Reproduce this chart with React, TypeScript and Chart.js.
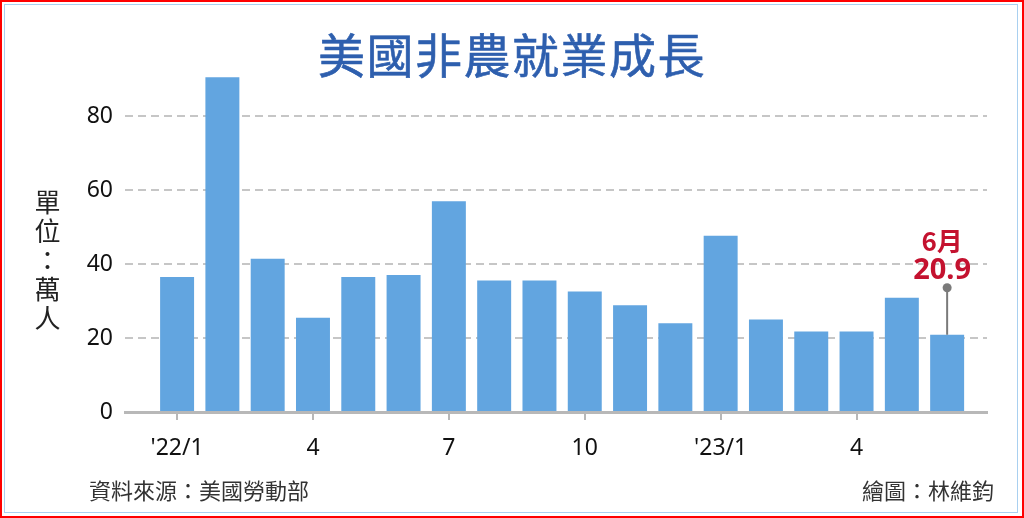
import React, { useEffect, useRef } from 'react';
import { Chart, registerables } from 'chart.js';

Chart.register(...registerables);

const TITLE = '美國非農就業成長';
const Y_LABEL = '單位：萬人';
const SOURCE = '資料來源：美國勞動部';
const CREDIT = '繪圖：林維鈞';

const categories = ["'22/1", '2', '3', '4', '5', '6', '7', '8', '9', '10', '11', '12', "'23/1", '2', '3', '4', '5', '6'];
const jobGains = [36.5, 90.6, 41.5, 25.5, 36.5, 37.1, 57.0, 35.6, 35.6, 32.6, 28.9, 24.0, 47.7, 25.0, 21.8, 21.8, 30.9, 20.9];
const yTicks = [0, 20, 40, 60, 80];

const CJK = "'Noto Sans CJK TC', 'Noto Sans', sans-serif";
const NUM = "'Noto Sans', 'DejaVu Sans', sans-serif";

export default function App() {
  const ref = useRef<HTMLCanvasElement>(null);

  useEffect(() => {
    if (!ref.current) return;
    const lastIdx = jobGains.length - 1;
    const annot = {
      id: 'lastAnnot',
      afterDatasetsDraw(chart: any) {
        const meta = chart.getDatasetMeta(0);
        const el = meta.data[lastIdx];
        if (!el) return;
        const ctx = chart.ctx;
        const x = el.x;
        const top = el.y;
        const dotY = top - 47;
        ctx.save();
        ctx.strokeStyle = '#7a7a7a';
        ctx.lineWidth = 2;
        ctx.beginPath();
        ctx.moveTo(x, top);
        ctx.lineTo(x, dotY);
        ctx.stroke();
        ctx.fillStyle = '#7a7a7a';
        ctx.beginPath();
        ctx.arc(x, dotY, 4.5, 0, Math.PI * 2);
        ctx.fill();
        ctx.fillStyle = '#c4122f';
        ctx.textAlign = 'center';
        ctx.textBaseline = 'alphabetic';
        ctx.font = `bold 29px ${NUM}`;
        ctx.fillText(jobGains[lastIdx].toFixed(1), x - 5, top - 56);
        ctx.font = `bold 26px ${CJK}`;
        ctx.fillText(`${categories[lastIdx]}月`, x - 5, top - 84);
        ctx.restore();
      },
    };

    const chart = new Chart(ref.current, {
      type: 'bar',
      data: {
        datasets: [
          {
            data: jobGains.map((v, i) => ({ x: i, y: v })) as any,
            backgroundColor: '#62a5e0',
            categoryPercentage: 0.75,
            barPercentage: 1,
          },
        ],
      },
      options: {
        animation: false,
        responsive: false,
        layout: { padding: { left: 85, right: 37, top: 72, bottom: 46 } },
        plugins: { legend: { display: false }, tooltip: { enabled: false } },
        scales: {
          x: {
            type: 'linear',
            offset: false,
            min: -1.15,
            max: 17.88,
            afterBuildTicks: (s: any) => {
              s.ticks = categories.map((_, i) => ({ value: i })).filter((t) => t.value % 3 === 0);
            },
            afterFit: (s: any) => {
              s.height = 60;
            },
            ticks: {
              callback: (v: any) => categories[v] ?? '',
              font: { family: NUM, size: 23 },
              color: '#111',
              padding: 15,
              maxRotation: 0,
              autoSkip: false,
            },
            grid: { offset: false, drawOnChartArea: false, drawTicks: true, tickLength: 8, color: '#b8b8b8', lineWidth: 2 },
            border: { display: true, color: '#b8b8b8', width: 3 },
          },
          y: {
            min: 0,
            max: 92,
            afterBuildTicks: (s: any) => {
              s.ticks = yTicks.map((v) => ({ value: v }));
            },
            afterFit: (s: any) => {
              s.width = 40;
            },
            ticks: {
              font: { family: NUM, size: 23 },
              color: '#111',
              padding: 12,
            },
            grid: {
              drawTicks: false,
              color: (c: any) => (c.tick && c.tick.value === 0 ? 'rgba(0,0,0,0)' : '#c6c6c6'),
              lineWidth: 2,
            },
            border: { display: false, dash: [8, 5] },
          },
        },
      } as any,
      plugins: [annot],
    });
    return () => chart.destroy();
  }, []);

  return (
    <div style={{ position: 'fixed', left: 0, top: 0, width: 1024, height: 518, background: '#fff', overflow: 'hidden' }}>
      <canvas ref={ref} width={1024} height={518} style={{ position: 'absolute', left: 0, top: 0, width: 1024, height: 518 }} />
      <div style={{ position: 'absolute', inset: 0, border: '2px solid #ff0000', boxSizing: 'border-box', pointerEvents: 'none' }} />
      <div style={{ position: 'absolute', left: 4, top: 4, right: 6, bottom: 5, border: '1.5px solid #a9d0f0', boxSizing: 'border-box', pointerEvents: 'none' }} />
      <div
        style={{
          position: 'absolute', left: 0, width: 1024, top: 29, textAlign: 'center',
          fontFamily: CJK, fontSize: 47, lineHeight: '47px', fontWeight: 400, color: '#2e5fae', letterSpacing: 1.5,
          WebkitTextStroke: '0.6px #2e5fae',
        }}
      >
        {TITLE}
      </div>
      <div style={{ position: 'absolute', left: 33, top: 186, width: 29, fontFamily: CJK, fontSize: 26, lineHeight: '29px', color: '#222', textAlign: 'center' }}>
        {Y_LABEL.split('').map((ch, i) => (
          <div key={i}>{ch}</div>
        ))}
      </div>
      <div style={{ position: 'absolute', left: 89, top: 476, fontFamily: CJK, fontSize: 22, lineHeight: '26px', color: '#333' }}>{SOURCE}</div>
      <div style={{ position: 'absolute', right: 30, top: 476, fontFamily: CJK, fontSize: 22, lineHeight: '26px', color: '#333' }}>{CREDIT}</div>
    </div>
  );
}
